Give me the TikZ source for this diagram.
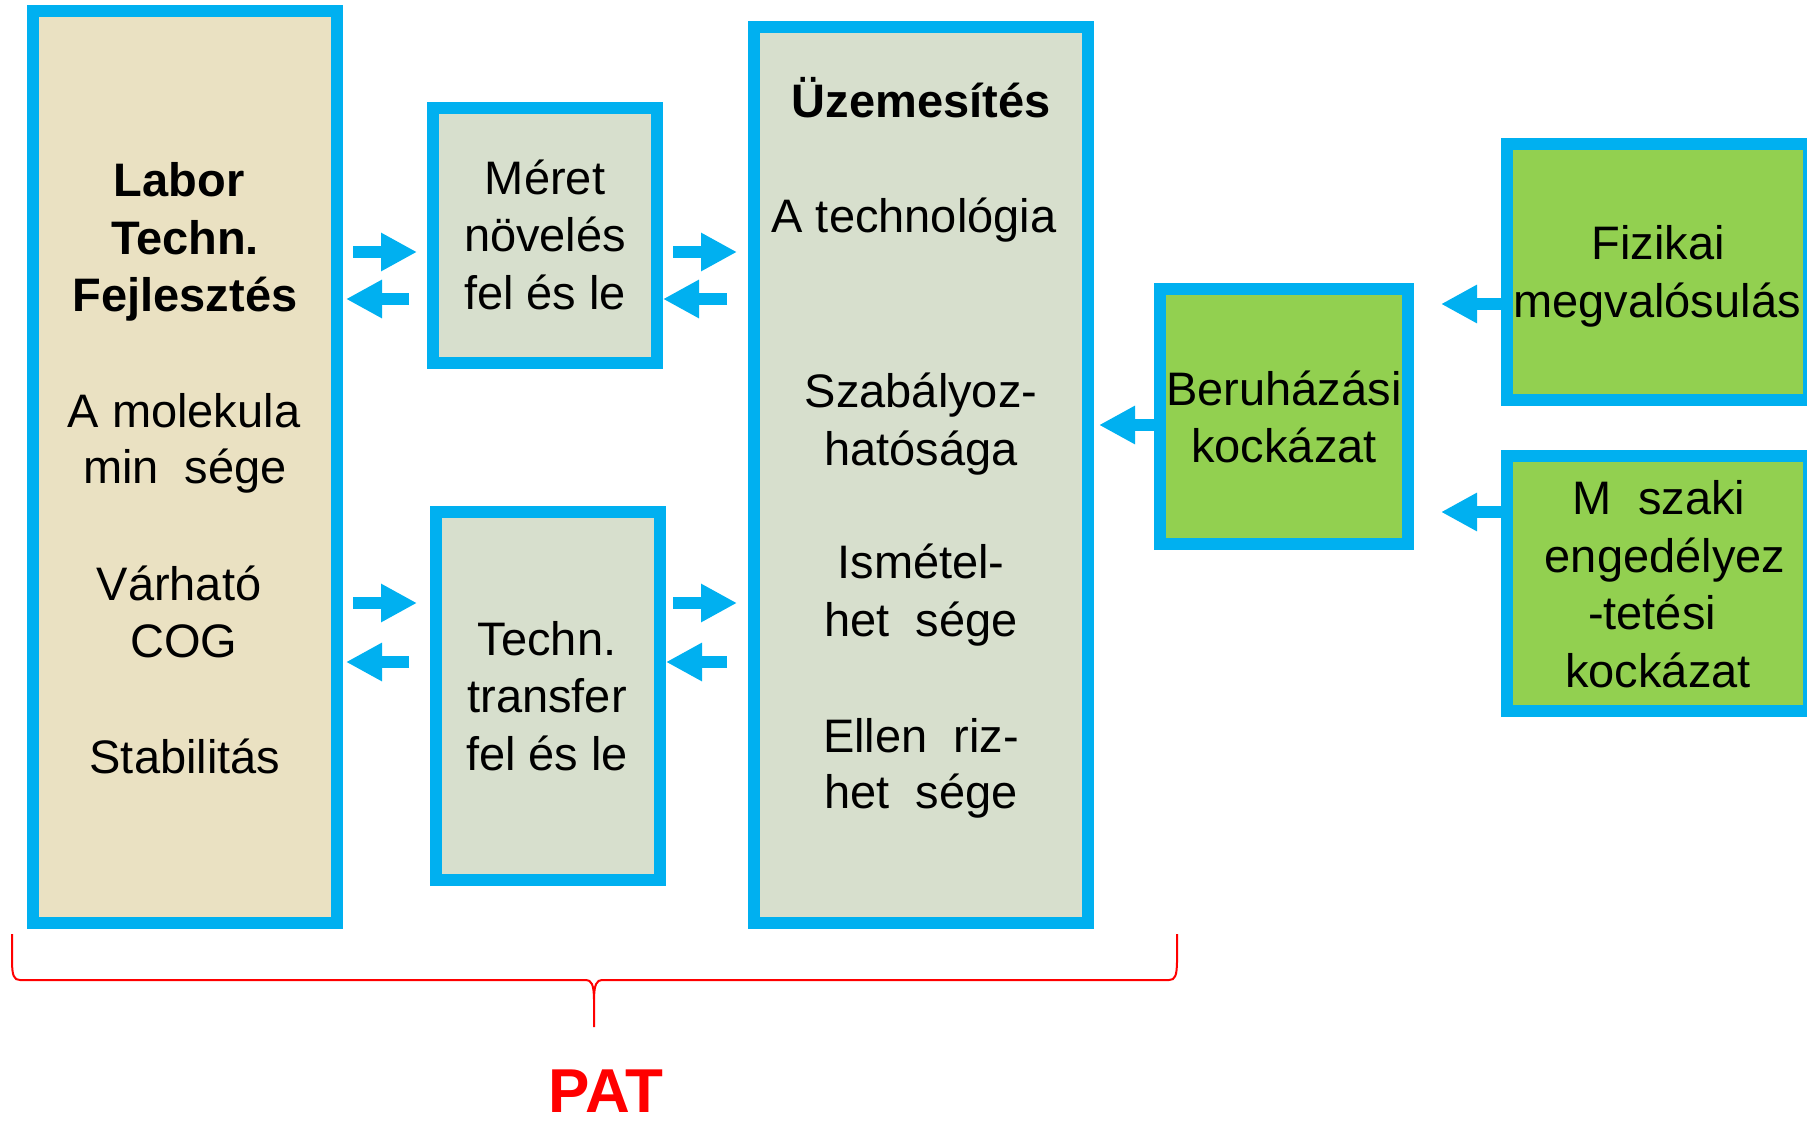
\documentclass[tikz,border=0pt]{standalone}
\usepackage{fontspec}
\setmainfont{Liberation Sans}
\usetikzlibrary{arrows.meta}
\definecolor{bluebd}{HTML}{00B0F0}
\definecolor{beige}{HTML}{EAE1C2}
\definecolor{sage}{HTML}{D7DFCD}
\definecolor{lgreen}{HTML}{92D050}
\newcommand\lostgap{\ \hspace{6.5pt}}
\begin{document}
\begin{tikzpicture}[x=0.5pt,y=-0.5pt,
  box/.style={draw=bluebd, line width=6pt, inner sep=0pt, rectangle},
  txt/.style={anchor=base, inner sep=0pt, font=\fontsize{23.5pt}{28pt}\selectfont},
  btxt/.style={anchor=base, inner sep=0pt, font=\fontsize{23.5pt}{28pt}\selectfont\bfseries},
  blk/.style={draw=bluebd, line width=6pt, -{Triangle[length=18pt,width=18pt]}},
  bracestyle/.style={draw=red, line width=1pt},
]
\useasboundingbox (0,0) rectangle (1807,1128);

% boxes
\node[box, fill=beige, minimum width=152pt, minimum height=456pt] (labor) at (185,467) {};
\node[box, fill=sage, minimum width=112pt, minimum height=127.5pt] (meret) at (545,235.5) {};
\node[box, fill=sage, minimum width=112pt, minimum height=184pt] (techn) at (548,696) {};
\node[box, fill=sage, minimum width=167pt, minimum height=448pt] (uzem) at (921,475) {};
\node[box, fill=lgreen, minimum width=124pt, minimum height=127.5pt] (beruh) at (1284,416.5) {};
\node[box, fill=lgreen, minimum width=151pt, minimum height=128pt] (fiz) at (1658,272) {};
\node[box, fill=lgreen, minimum width=151pt, minimum height=127.5pt] (musz) at (1658,583.5) {};

% texts
\node[btxt] (lab1) at (179,197) {Labor};
\node[btxt] (lab2) at (185,255) {Techn.};
\node[btxt] (lab3) at (185,312) {Fejlesztés};
\node[txt] (lab4) at (184,427) {A molekula};
\node[txt] (lab5) at (185,483) {min\lostgap sége};
\node[txt] (lab6) at (179,600) {Várható};
\node[txt] (lab7) at (184,657) {COG};
\node[txt] (lab8) at (185,773) {Stabilitás};

\node[txt] (mer1) at (545,195) {Méret};
\node[txt] (mer2) at (545,252) {növelés};
\node[txt] (mer3) at (545,310) {fel és le};

\node[txt] (tec1) at (547,655) {Techn.};
\node[txt] (tec2) at (547,712) {transfer};
\node[txt] (tec3) at (547,770) {fel és le};

\node[btxt] (uz1) at (921,118) {Üzemesítés};
\node[txt] (uz2) at (914,233) {A technológia};
\node[txt] (uz3) at (921,407) {Szabályoz-};
\node[txt] (uz4) at (921,465) {hatósága};
\node[txt] (uz5) at (921,578) {Ismétel-};
\node[txt] (uz6) at (921,636) {het\lostgap sége};
\node[txt] (uz7) at (921,752) {Ellen\lostgap riz-};
\node[txt] (uz8) at (921,808) {het\lostgap sége};

\node[txt] (be1) at (1284,405) {Beruházási};
\node[txt] (be2) at (1284,462) {kockázat};

\node[txt] (fi1) at (1658,260) {Fizikai};
\node[txt] (fi2) at (1657,318) {megvalósulás};

\node[txt] (mu1) at (1659,514) {M\lostgap szaki};
\node[txt] (mu2) at (1665,572) {engedélyez};
\node[txt] (mu3) at (1652,629) {-tetési};
\node[txt] (mu4) at (1658,687) {kockázat};

% arrows
\draw[blk] ([xshift=5pt]labor.east |- 0,252) -- ([xshift=-5pt]meret.west |- 0,252);
\draw[blk] ([xshift=-9pt]meret.west |- 0,299) -- ([xshift=1.5pt]labor.east |- 0,299);
\draw[blk] ([xshift=5pt]meret.east |- 0,252) -- ([xshift=-5.5pt]uzem.west |- 0,252);
\draw[blk] ([xshift=-10.5pt]uzem.west |- 0,299) -- (meret.east |- 0,299);
\draw[blk] ([xshift=5pt]labor.east |- 0,603) -- ([xshift=-6.5pt]techn.west |- 0,603);
\draw[blk] ([xshift=-10.5pt]techn.west |- 0,662) -- ([xshift=1.5pt]labor.east |- 0,662);
\draw[blk] ([xshift=3.5pt]techn.east |- 0,603) -- ([xshift=-5.5pt]uzem.west |- 0,603);
\draw[blk] ([xshift=-10.5pt]uzem.west |- 0,662) -- (techn.east |- 0,662);
\draw[blk] (beruh.west |- 0,425) -- ([xshift=2.5pt]uzem.east |- 0,425);
\draw[blk] (fiz.west |- 0,304) -- ([xshift=13.5pt]beruh.east |- 0,304);
\draw[blk] (musz.west |- 0,512) -- ([xshift=13.5pt]beruh.east |- 0,512);

% brace
\draw[bracestyle] (12,934) -- (12,960) .. controls (12,976) and (14,980) .. (20,980)
  -- (586,980) .. controls (591,980) and (594,984) .. (594,1000) -- (594,1027)
  -- (594,1000) .. controls (594,984) and (597,980) .. (602,980)
  -- (1169,980) .. controls (1175,980) and (1177,976) .. (1177,960) -- (1177,934);

\node[anchor=base, inner sep=0pt, text=red, font=\fontsize{31pt}{36pt}\selectfont\bfseries] (pat) at (606,1112) {PAT};
\end{tikzpicture}
\end{document}
